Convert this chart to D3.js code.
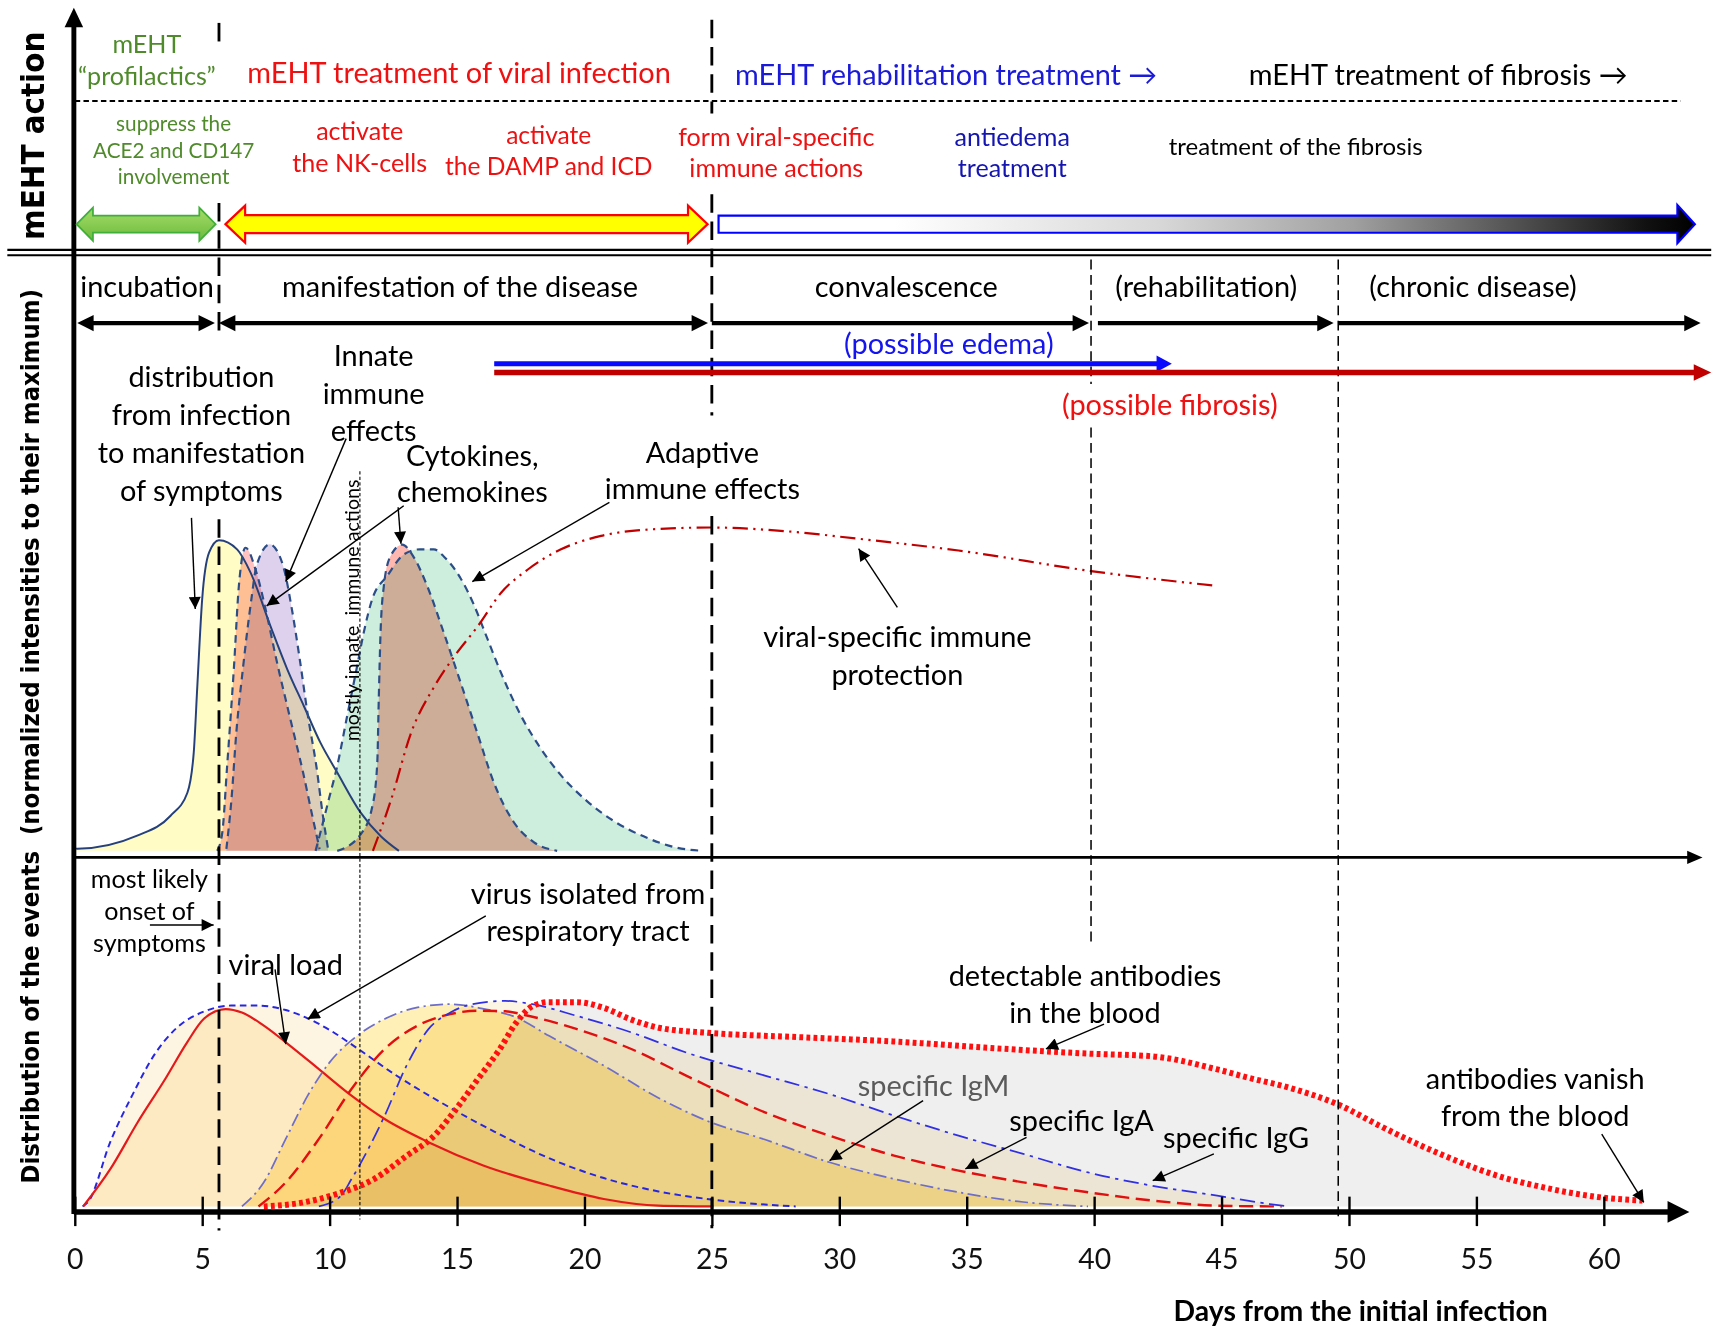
<!DOCTYPE html>
<html>
<head>
<meta charset="utf-8">
<script src="https://cdn.jsdelivr.net/npm/d3@7"></script>
<style>
  body { margin: 0; background: #fff; }
  svg text { font-family: Lato, "Noto Sans", sans-serif; white-space: pre; }
  .title { font-family: "DejaVu Sans", Verdana, sans-serif; font-weight: bold; }
</style>
</head>
<body>
<svg id="chart"></svg>
<script>
// ---------- data (day from infection, normalized intensity) ----------
const dayTicks = d3.range(0, 61, 5);

// middle panel
const onsetDistribution = [[0,0.008],[0.1,0.007],[2.45,0.049],[3.76,0.113],[4.42,0.187],[4.67,0.317],[4.81,0.53],[5.0,0.809],[5.27,0.959],[5.66,0.999],[6.38,0.969],[6.9,0.895],[7.68,0.723],[8.34,0.584],[8.99,0.466],[9.64,0.348],[10.3,0.252],[11.22,0.123],[12.0,0.048],[12.72,0]];
const innatePink = [[5.59,0],[5.79,0.059],[5.98,0.273],[6.25,0.594],[6.44,0.852],[6.7,0.975],[7.13,0.895],[7.52,0.766],[7.91,0.616],[8.43,0.434],[8.96,0.252],[9.35,0.102],[9.61,0.006]];
const innatePurple = [[5.95,0.006],[6.15,0.166],[6.34,0.38],[6.61,0.594],[6.93,0.809],[7.13,0.916],[7.65,0.986],[8.18,0.916],[8.5,0.787],[8.83,0.616],[9.15,0.434],[9.48,0.273],[9.74,0.112],[9.94,0.006]];
const cytokines = [[10.3,0],[11.22,0.053],[11.67,0.14],[11.87,0.28],[11.93,0.488],[12.0,0.702],[12.13,0.852],[12.39,0.948],[12.85,0.985],[13.3,0.945],[13.83,0.852],[14.48,0.702],[15.14,0.542],[15.79,0.381],[16.44,0.221],[17.23,0.092],[18.01,0.028],[18.93,0]];
const adaptiveEffects = [[9.45,0],[9.64,0.059],[9.97,0.166],[10.3,0.273],[10.69,0.434],[11.08,0.594],[11.34,0.702],[11.67,0.809],[12.26,0.884],[12.94,0.955],[13.55,0.97],[14.09,0.97],[14.48,0.947],[15.14,0.877],[15.66,0.792],[16.18,0.685],[16.7,0.578],[17.49,0.438],[18.27,0.331],[19.05,0.246],[20.1,0.16],[21.15,0.096],[22.45,0.042],[23.63,0.01],[24.67,0]];
const immuneProtection = [[11.7,0],[12.42,0.166],[13.2,0.38],[14.12,0.53],[14.9,0.626],[15.82,0.723],[16.73,0.83],[17.78,0.905],[19.08,0.97],[20.65,1.013],[22.61,1.034],[24.96,1.04],[27.92,1.028],[30.63,1.005],[34.68,0.966],[39.88,0.9],[44.83,0.852]];

// bottom panel
const viralLoad = [[0.33,0],[1.4,0.185],[2.47,0.415],[3.55,0.628],[4.41,0.809],[5.06,0.924],[5.92,0.973],[6.56,0.956],[7.42,0.891],[8.28,0.809],[9.58,0.677],[10.86,0.546],[12.16,0.431],[13.88,0.317],[16.03,0.202],[18.61,0.103],[20.76,0.037],[22.91,0.004],[25.06,0]];
const virusIsolated = [[0.31,0],[0.54,0.025],[1.4,0.32],[2.26,0.549],[3.12,0.747],[3.98,0.878],[5.06,0.96],[6.13,0.99],[7.21,0.99],[8.28,0.968],[9.14,0.927],[10.0,0.87],[11.08,0.78],[12.59,0.648],[14.31,0.517],[16.46,0.369],[18.61,0.238],[20.76,0.14],[22.91,0.074],[25.06,0.033],[28.29,0]];
const igM = [[6.56,0],[7.42,0.119],[8.28,0.333],[9.14,0.546],[10.0,0.71],[11.08,0.841],[12.16,0.924],[13.45,0.981],[14.74,0.997],[16.0,0.975],[17.32,0.932],[18.61,0.841],[20.76,0.694],[22.91,0.535],[24.85,0.42],[27.08,0.33],[29.61,0.218],[32.15,0.136],[34.68,0.07],[37.22,0.022],[39.76,0]];
const igA = [[7.21,0],[8.28,0.119],[9.58,0.333],[10.86,0.579],[12.16,0.776],[13.45,0.891],[14.74,0.948],[15.81,0.965],[16.89,0.962],[17.75,0.941],[19.68,0.875],[21.84,0.776],[23.99,0.645],[27.08,0.464],[29.61,0.349],[32.15,0.251],[34.68,0.177],[37.22,0.119],[39.76,0.07],[42.29,0.029],[44.83,0.004],[47.36,0]];
const igG = [[9.58,0],[10.44,0.052],[10.86,0.135],[12.16,0.447],[13.02,0.694],[13.88,0.874],[14.74,0.956],[15.6,0.997],[16.89,1.013],[17.96,0.997],[19.68,0.94],[21.84,0.858],[23.99,0.759],[27.08,0.645],[29.61,0.554],[32.15,0.448],[34.68,0.349],[37.22,0.259],[39.76,0.168],[42.29,0.102],[44.83,0.053],[46.89,0.012],[47.61,0]];
const antibodies = [[7.42,0],[8.93,0.019],[10.44,0.068],[11.73,0.134],[13.02,0.249],[14.09,0.347],[14.95,0.478],[15.81,0.626],[16.67,0.774],[17.32,0.905],[17.96,0.987],[18.61,1.007],[19.68,1.007],[20.76,0.979],[21.84,0.921],[22.91,0.881],[24.85,0.856],[28.35,0.835],[32.15,0.813],[35.95,0.781],[39.82,0.753],[42.29,0.74],[44.79,0.677],[46.1,0.633],[47.31,0.597],[49.71,0.495],[51.17,0.4],[53.7,0.252],[56.13,0.14],[57.6,0.095],[58.8,0.065],[59.94,0.044],[61.52,0.029]];

// phases and markers (days)
const phaseNames = ['incubation', 'manifestation of the disease', 'convalescence', '(rehabilitation)', '(chronic disease)'];
const phaseStart = [0.1, 5.66, 25.0, 40.15, 49.6];
const phaseEnd = [5.5, 24.85, 39.8, 49.4, 63.8];
const phaseCenter = [2.84, 15.12, 32.63, 44.4, 54.87];
const majorMarkers = [5.66, 25.0];
const minorMarkers = [39.88, 49.58];
const innateBoundary = 11.19;

// mEHT action
const treatmentNames = ['mEHT treatment of viral infection', 'mEHT rehabilitation treatment \u2192', 'mEHT treatment of fibrosis \u2192'];
const treatmentDays = [15.08, 25.91, 46.07];
const actionLines = [
  ['suppress the', 'ACE2 and CD147', 'involvement'],
  ['activate', 'the NK-cells'],
  ['activate', 'the DAMP and ICD'],
  ['form viral-specific', 'immune actions'],
  ['antiedema', 'treatment'],
  ['treatment of the fibrosis']
];
const actionDays = [3.88, 11.18, 18.6, 27.53, 36.79, 47.91];

// ---------- layout ----------
const W = 1568, H = 1222;
const svg = d3.select('#chart')
  .attr('width', 1712).attr('height', 1333)
  .attr('viewBox', `0 0 ${W} ${H}`);

const x = d3.scaleLinear().domain([0, 60]).range([67.8, 1469.5]);
const yMid = d3.scaleLinear().domain([0, 1]).range([780, 495]);
const yBot = d3.scaleLinear().domain([0, 1]).range([1106, 920]);

const green = '#4f8a2b', red = '#ee1111', blue = '#1a1ad8', navy = '#25407a';

const defs = svg.append('defs');
const fade = defs.append('linearGradient').attr('id', 'fade');
[[0, '#ffffff'], [0.18, '#ffffff'], [0.45, '#d8d8d8'], [0.65, '#a0a0a0'], [0.82, '#505050'], [0.95, '#111111'], [1, '#000000']]
  .forEach(([o, c]) => fade.append('stop').attr('offset', o).attr('stop-color', c));
const greenGrad = defs.append('linearGradient').attr('id', 'greenGrad').attr('x1', 0).attr('y1', 0).attr('x2', 0).attr('y2', 1);
greenGrad.append('stop').attr('offset', 0).attr('stop-color', '#a6dc6a');
greenGrad.append('stop').attr('offset', 1).attr('stop-color', '#6cbb3c');
defs.append('marker').attr('id', 'tip')
  .attr('viewBox', '0 0 10 10').attr('refX', 10).attr('refY', 5)
  .attr('markerWidth', 15).attr('markerHeight', 11).attr('markerUnits', 'userSpaceOnUse')
  .attr('orient', 'auto')
  .append('path').attr('d', 'M0,0L10,5L0,10Z').attr('fill', '#000');

// ---------- helpers ----------
function area(yScale) {
  return d3.area().x(d => x(d[0])).y0(yScale(0)).y1(d => yScale(d[1])).curve(d3.curveMonotoneX);
}
function line(yScale) {
  return d3.line().x(d => x(d[0])).y(d => yScale(d[1])).curve(d3.curveMonotoneX);
}
function label(g, xp, yp, lines, size, color, step, opts = {}) {
  const t = g.append('text')
    .attr('x', xp).attr('y', yp)
    .attr('text-anchor', opts.anchor || 'middle')
    .attr('font-size', size).attr('fill', color)
    .attr('font-weight', opts.weight || 'normal');
  lines.forEach((s, i) => {
    t.append('tspan').attr('x', xp).attr('y', yp + i * step).attr('dy', '0.36em').text(s);
  });
  return t;
}
function pointer(g, d0, v0, d1, v1, yScale) {
  g.append('line')
    .attr('x1', x(d0)).attr('y1', yScale(v0))
    .attr('x2', x(d1)).attr('y2', yScale(v1))
    .attr('stroke', '#000').attr('stroke-width', 1.3)
    .attr('marker-end', 'url(#tip)');
}
function blockArrow(xa, xb, yc, bh, hh, hl, left, right) {
  const t = yc - bh / 2, b = yc + bh / 2, ht = yc - hh / 2, hb = yc + hh / 2;
  const p = [];
  if (left) p.push([xa, yc], [xa + hl, ht], [xa + hl, t]); else p.push([xa, t]);
  if (right) p.push([xb - hl, t], [xb - hl, ht], [xb, yc], [xb - hl, hb], [xb - hl, b]);
  else p.push([xb, t], [xb, b]);
  if (left) p.push([xa + hl, b], [xa + hl, hb]); else p.push([xa, b]);
  return d3.line()(p) + 'Z';
}
function headPath(xTip, yc, dir, len, half) {
  return d3.line()([[xTip, yc], [xTip - dir * len, yc - half], [xTip - dir * len, yc + half]]) + 'Z';
}
// vertical marker drawn in pieces (hidden behind text boxes like the original)
function marker(g, day, pieces, width, dash) {
  pieces.forEach(([a, b]) => {
    g.append('line').attr('x1', x(day)).attr('x2', x(day)).attr('y1', a).attr('y2', b)
      .attr('stroke-width', width).attr('stroke-dasharray', dash);
  });
}

// ---------- bottom panel fills ----------
const bottom = svg.append('g');
bottom.append('path').datum(antibodies).attr('d', area(yBot)).attr('fill', '#efefef');
[[igG, '#fcf5e4'], [igA, '#fff9e0'], [igM, '#fff0b8'], [virusIsolated, '#fdf4e1'], [viralLoad, '#fff4dc']]
  .forEach(([data, fill]) => {
    bottom.append('path').datum(data).attr('d', area(yBot))
      .attr('fill', fill).style('mix-blend-mode', 'multiply');
  });

// ---------- middle panel fills ----------
const middle = svg.append('g');
[[onsetDistribution, '#fffcc6'], [innatePurple, '#ddd1ee'], [innatePink, '#ffc2c0'], [adaptiveEffects, '#cdeedd'], [cytokines, '#ffb8b0']]
  .forEach(([data, fill]) => {
    middle.append('path').datum(data).attr('d', area(yMid))
      .attr('fill', fill).style('mix-blend-mode', 'multiply');
  });

// ---------- curves ----------
const curves = svg.append('g').attr('fill', 'none');
curves.append('path').datum(onsetDistribution).attr('d', line(yMid)).attr('stroke', navy).attr('stroke-width', 1.8);
[innatePink, innatePurple, cytokines, adaptiveEffects].forEach(data => {
  curves.append('path').datum(data).attr('d', line(yMid))
    .attr('stroke', '#2b4d88').attr('stroke-width', 2).attr('stroke-dasharray', '7,5');
});
curves.append('path').datum(immuneProtection).attr('d', line(yMid))
  .attr('stroke', '#c00000').attr('stroke-width', 2).attr('stroke-dasharray', '14,5,2,5,2,5');

curves.append('path').datum(virusIsolated).attr('d', line(yBot)).attr('stroke', '#2626e0').attr('stroke-width', 1.8).attr('stroke-dasharray', '6,4');
curves.append('path').datum(viralLoad).attr('d', line(yBot)).attr('stroke', '#e31a1a').attr('stroke-width', 2);
curves.append('path').datum(igM).attr('d', line(yBot)).attr('stroke', '#6e6ec8').attr('stroke-width', 1.6).attr('stroke-dasharray', '12,4,2,4');
curves.append('path').datum(igA).attr('d', line(yBot)).attr('stroke', '#e01010').attr('stroke-width', 2.2).attr('stroke-dasharray', '13,6');
curves.append('path').datum(igG).attr('d', line(yBot)).attr('stroke', '#3030e0').attr('stroke-width', 1.6).attr('stroke-dasharray', '14,5,3,5');
curves.append('path').datum(antibodies).attr('d', line(yBot)).attr('stroke', '#ff1010').attr('stroke-width', 5.5).attr('stroke-dasharray', '3.5,3');

// ---------- marker lines ----------
const marks = svg.append('g').attr('stroke', '#000').attr('fill', 'none');
marker(marks, majorMarkers[0], [[21, 42], [186, 310], [476, 1128]], 2.6, '17,8');
marker(marks, majorMarkers[1], [[18, 104], [178, 381], [473, 1126]], 2.6, '17,8');
marker(marks, minorMarkers[0], [[238, 352], [392, 868]], 1.4, '9,5');
marker(marks, minorMarkers[1], [[238, 1120]], 1.4, '9,5');
marker(marks, innateBoundary, [[432, 1118]], 1, '3,2');

// ---------- axes ----------
const axes = svg.append('g');
const xAxis = axes.append('g').attr('transform', 'translate(0,1111)')
  .call(d3.axisBottom(x).tickValues(dayTicks).tickSize(13).tickSizeOuter(0));
xAxis.select('.domain').remove();
xAxis.selectAll('.tick line').attr('y1', -14).attr('stroke', '#000').attr('stroke-width', 2.2);
xAxis.selectAll('.tick text').attr('y', 43).attr('dy', '0.36em')
  .attr('font-family', 'Lato, sans-serif').attr('font-size', 26).attr('fill', '#111');
axes.append('line').attr('x1', 67).attr('x2', 1530).attr('y1', 1111).attr('y2', 1111).attr('stroke', '#000').attr('stroke-width', 5);
axes.append('path').attr('d', headPath(1548, 1111, 1, 20, 10)).attr('fill', '#000');
axes.append('line').attr('x1', 67).attr('x2', 1548).attr('y1', 786).attr('y2', 786).attr('stroke', '#000').attr('stroke-width', 2.4);
axes.append('path').attr('d', headPath(1560, 786, 1, 14, 6)).attr('fill', '#000');
axes.append('line').attr('x1', 67).attr('x2', 67).attr('y1', 1113).attr('y2', 22).attr('stroke', '#000').attr('stroke-width', 4.5);
axes.append('path').attr('d', d3.line()([[58.5, 25], [67, 7], [75.5, 25]]) + 'Z').attr('fill', '#000');
axes.append('line').attr('x1', 6).attr('x2', W).attr('y1', 229).attr('y2', 229).attr('stroke', '#000').attr('stroke-width', 2);
axes.append('line').attr('x1', 6).attr('x2', W).attr('y1', 234).attr('y2', 234).attr('stroke', '#000').attr('stroke-width', 2);
axes.append('line').attr('x1', x(0)).attr('x2', 1540).attr('y1', 92.5).attr('y2', 92.5)
  .attr('stroke', '#000').attr('stroke-width', 1.8).attr('stroke-dasharray', '5,3');

// ---------- mEHT action arrows ----------
const action = svg.append('g');
action.append('path').attr('d', blockArrow(69.5, 197, 205.5, 15.5, 30.5, 15, true, true))
  .attr('fill', 'url(#greenGrad)').attr('stroke', '#3fae3a').attr('stroke-width', 1.6);
action.append('path').attr('d', blockArrow(206, 648, 205.5, 16.5, 34, 18, true, true))
  .attr('fill', '#ffff00').attr('stroke', '#ff0000').attr('stroke-width', 2);
action.append('path').attr('d', blockArrow(658, 1553, 205.5, 15.7, 35, 16, false, true))
  .attr('fill', 'url(#fade)').attr('stroke', '#0000ff').attr('stroke-width', 2);

// mEHT texts
label(action, x(2.83), 40.3, ['mEHT', '\u201Cprofilactics\u201D'], 23, green, 29.3);
treatmentNames.forEach((s, i) => {
  label(action, x(treatmentDays[i]), i === 0 ? 66.5 : 68.7, [s], 26.5, [red, blue, '#000'][i], 0,
    { anchor: i === 0 ? 'middle' : 'start' });
});
const actionColors = [green, red, red, red, '#1515b0', '#000'];
const actionSizes = [19, 23, 22.5, 23, 23, 22];
const actionTop = [113.6, 119.7, 123.7, 125.2, 125.2, 134.4];
const actionStep = [24, 30, 29, 29, 29, 0];
actionLines.forEach((lines, i) => {
  label(action, x(actionDays[i]), actionTop[i], lines, actionSizes[i], actionColors[i], actionStep[i]);
});

// axis titles
svg.append('text').attr('class', 'title').attr('transform', 'translate(40,124.5) rotate(-90)')
  .attr('text-anchor', 'middle').attr('font-size', 30)
  .attr('textLength', 191).attr('lengthAdjust', 'spacingAndGlyphs').text('mEHT action');
svg.append('text').attr('class', 'title').attr('transform', 'translate(35,675) rotate(-90)')
  .attr('text-anchor', 'middle').attr('font-size', 23)
  .attr('textLength', 820).attr('lengthAdjust', 'spacingAndGlyphs')
  .text('Distribution of the events  (normalized intensities to their maximum)');

// ---------- phases ----------
const phases = svg.append('g');
phaseNames.forEach((s, i) => {
  label(phases, x(phaseCenter[i]), 262.6, [s], 26.5, '#000', 0);
  const xa = x(phaseStart[i]), xb = x(phaseEnd[i]);
  const twoWay = i < 2;
  phases.append('line').attr('x1', twoWay ? xa + 8 : xa).attr('x2', xb - 8).attr('y1', 296.2).attr('y2', 296.2)
    .attr('stroke', '#000').attr('stroke-width', 4);
  phases.append('path').attr('d', headPath(xb, 296.2, 1, 15, 7.5)).attr('fill', '#000');
  if (twoWay) phases.append('path').attr('d', headPath(xa, 296.2, -1, 15, 7.5)).attr('fill', '#000');
});

// possible edema / fibrosis
phases.append('line').attr('x1', x(16.46)).attr('x2', x(42.6)).attr('y1', 333.5).attr('y2', 333.5).attr('stroke', '#0a0aff').attr('stroke-width', 4.5);
phases.append('path').attr('d', headPath(x(43.05), 333.5, 1, 14, 7.5)).attr('fill', '#0a0aff');
phases.append('line').attr('x1', x(16.46)).attr('x2', x(63.6)).attr('y1', 341.5).attr('y2', 341.5).attr('stroke', '#c00000').attr('stroke-width', 5);
phases.append('path').attr('d', headPath(1568, 341.5, 1, 16, 7.5)).attr('fill', '#c00000');
label(phases, x(34.3), 315.2, ['(possible edema)'], 26.5, '#1414ee', 0);
label(phases, x(42.97), 370.5, ['(possible fibrosis)'], 26.5, red, 0);

// ---------- annotations: middle ----------
const notes = svg.append('g');
label(notes, x(4.97), 345.2, ['distribution', 'from infection', 'to manifestation', 'of symptoms'], 26.5, '#000', 34.7);
pointer(notes, 4.58, 1.071, 4.73, 0.778, yMid);
label(notes, x(11.73), 326.3, ['Innate', 'immune', 'effects'], 26.5, '#000', 34.3);
pointer(notes, 10.65, 1.326, 8.28, 0.866, yMid);
label(notes, x(15.6), 417.8, ['Cytokines,', 'chemokines'], 26.5, '#000', 33.2);
pointer(notes, 12.91, 1.11, 7.53, 0.788, yMid);
pointer(notes, 12.69, 1.105, 12.8, 0.988, yMid);
label(notes, x(24.63), 414.7, ['Adaptive', 'immune effects'], 26.5, '#000', 33.1);
pointer(notes, 20.98, 1.121, 15.6, 0.866, yMid);
label(notes, x(32.28), 583.6, ['viral-specific immune', 'protection'], 26.5, '#000', 34.8);
pointer(notes, 32.28, 0.783, 30.76, 0.972, yMid);
notes.append('text').attr('transform', `translate(${x(10.86)},559.6) rotate(-90)`)
  .attr('text-anchor', 'middle').attr('dy', '0.36em').attr('font-size', 18).attr('fill', '#000')
  .text('mostly innate  immune actions');

// ---------- annotations: bottom ----------
label(notes, x(2.93), 805.4, ['most likely', 'onset of', 'symptoms'], 23, '#000', 29.6);
pointer(notes, 2.95, 1.387, 5.45, 1.387, yBot);
label(notes, x(8.28), 883.9, ['viral load'], 26.5, '#000', 0);
pointer(notes, 7.86, 1.169, 8.28, 0.8, yBot);
label(notes, x(20.14), 818.8, ['virus isolated from', 'respiratory tract'], 26.5, '#000', 34.5);
pointer(notes, 16.13, 1.432, 9.14, 0.924, yBot);
label(notes, x(39.64), 893.9, ['detectable antibodies', 'in the blood'], 26.5, '#000', 34.2);
pointer(notes, 40.39, 0.899, 38.11, 0.777, yBot);
label(notes, x(33.7), 995.3, ['specific IgM'], 26.5, '#5a5a5a', 0);
pointer(notes, 33.29, 0.522, 29.62, 0.226, yBot);
label(notes, x(39.51), 1027.3, ['specific IgA'], 26.5, '#000', 0);
pointer(notes, 37.35, 0.341, 34.95, 0.185, yBot);
label(notes, x(45.57), 1042.6, ['specific IgG'], 26.5, '#000', 0);
pointer(notes, 44.7, 0.259, 42.3, 0.127, yBot);
label(notes, x(57.31), 989.2, ['antibodies vanish', 'from the blood'], 26.5, '#000', 33.5);
pointer(notes, 59.92, 0.357, 61.57, 0.02, yBot);

label(notes, x(50.46), 1201.4, ['Days from the initial infection'], 26, '#000', 0, { weight: 'bold' });
</script>
</body>
</html>
